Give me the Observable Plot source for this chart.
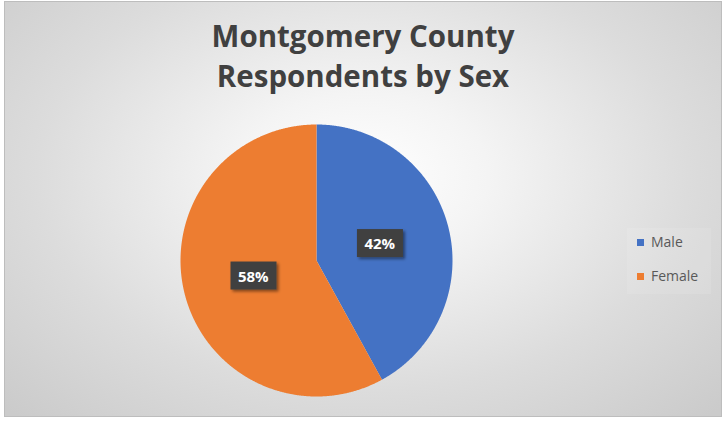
<!DOCTYPE html>
<html><head><meta charset="utf-8">
<script src="https://cdn.jsdelivr.net/npm/d3@7"></script>
<script src="https://cdn.jsdelivr.net/npm/@observablehq/plot@0.6"></script>
<style>
body{margin:0;background:#fff;}
#chart{position:relative;width:725px;height:421px;overflow:hidden;}
#bg{position:absolute;left:4px;top:1px;width:716px;height:414px;border:1px solid #bdbdbd;
 background:radial-gradient(ellipse 70% 80% at 50% 42%, #ffffff 0%, #f4f4f4 25%, #dcdcdc 65%, #cbcbcb 100%);}
#title{position:absolute;left:4px;width:718px;top:16px;text-align:center;font-family:"Open Sans",sans-serif;font-weight:700;font-size:29.5px;line-height:40px;color:#404040;}
#legend{position:absolute;left:627px;top:228px;width:84px;height:66px;background:rgba(255,255,255,0.1);font-family:"Open Sans",sans-serif;font-size:14px;color:#595959;}
#legend div{position:absolute;left:10px;white-space:nowrap;}
#legend span{display:inline-block;width:7px;height:7px;margin-right:7px;vertical-align:1px;}
#plot{position:absolute;left:0;top:0;}
</style></head>
<body>
<div id="chart"><div id="bg"></div><div id="title">Montgomery County<br>Respondents by Sex</div><div id="legend"></div><div id="plot"></div></div>
<script>
const categories = ["Male", "Female"];
const shares = [42, 58];
const colors = ["#4472C4", "#ED7D31"];

const W = 725, H = 421, cx = 316, cy = 260, R = 136;
const rows = categories.map((c, i) => ({cat: c, value: shares[i]}));
const arcs = d3.pie().sort(null).value(d => d.value)(rows);

// polygon vertices for each slice in unit (data) coordinates
const pts = [];
for (const a of arcs) {
  pts.push({cat: a.data.cat, x: 0, y: 0});
  const n = Math.max(2, Math.ceil((a.endAngle - a.startAngle) / 0.005));
  for (let k = 0; k <= n; k++) {
    const t = a.startAngle + (a.endAngle - a.startAngle) * k / n;
    pts.push({cat: a.data.cat, x: Math.sin(t), y: Math.cos(t)});
  }
  pts.push({cat: a.data.cat, x: 0, y: 0});
}
const labels = arcs.map(a => {
  const m = (a.startAngle + a.endAngle) / 2;
  return {cat: a.data.cat, x: 0.48 * Math.sin(m), y: 0.48 * Math.cos(m), text: a.data.value + "%"};
});

const plot = Plot.plot({
  width: W, height: H, margin: 0,
  x: {domain: [-cx / R, (W - cx) / R], axis: null},
  y: {domain: [-(H - cy) / R, cy / R], axis: null},
  color: {domain: categories, range: colors},
  style: {background: "transparent", overflow: "visible"},
  marks: [
    Plot.line(pts, {x: "x", y: "y", z: "cat", fill: "cat", stroke: "none", curve: "linear-closed"}),
    Plot.text(labels, {x: "x", y: "y", text: "text", fill: "white", fontSize: 15, fontWeight: 700,
      fontFamily: "Open Sans", className: "lbl"})
  ]
});
document.getElementById("plot").appendChild(plot);

// dark boxes behind the data labels
const defs = d3.select(plot).append("defs");
const f = defs.append("filter").attr("id", "sh").attr("x", "-30%").attr("y", "-30%").attr("width", "160%").attr("height", "160%");
f.append("feDropShadow").attr("dx", 2).attr("dy", 2).attr("stdDeviation", 1.5).attr("flood-color", "#000").attr("flood-opacity", 0.45);
d3.select(plot).selectAll("g.lbl text").each(function() {
  const b = this.getBBox();
  const w = 46, h = 28;
  const tr = this.getAttribute("transform");
  const r = d3.select(this.parentNode).insert("rect", () => this)
    .attr("x", b.x + b.width / 2 - w / 2).attr("y", b.y + b.height / 2 - h / 2)
    .attr("width", w).attr("height", h).attr("fill", "#404040").attr("filter", "url(#sh)");
  if (tr) r.attr("transform", tr);
});

// legend
const lg = d3.select("#legend");
categories.forEach((c, i) => {
  const d = lg.append("div").style("top", (4 + i * 34) + "px");
  d.append("span").style("background", colors[i]);
  d.append("text").text(c);
});
</script>
</body></html>
